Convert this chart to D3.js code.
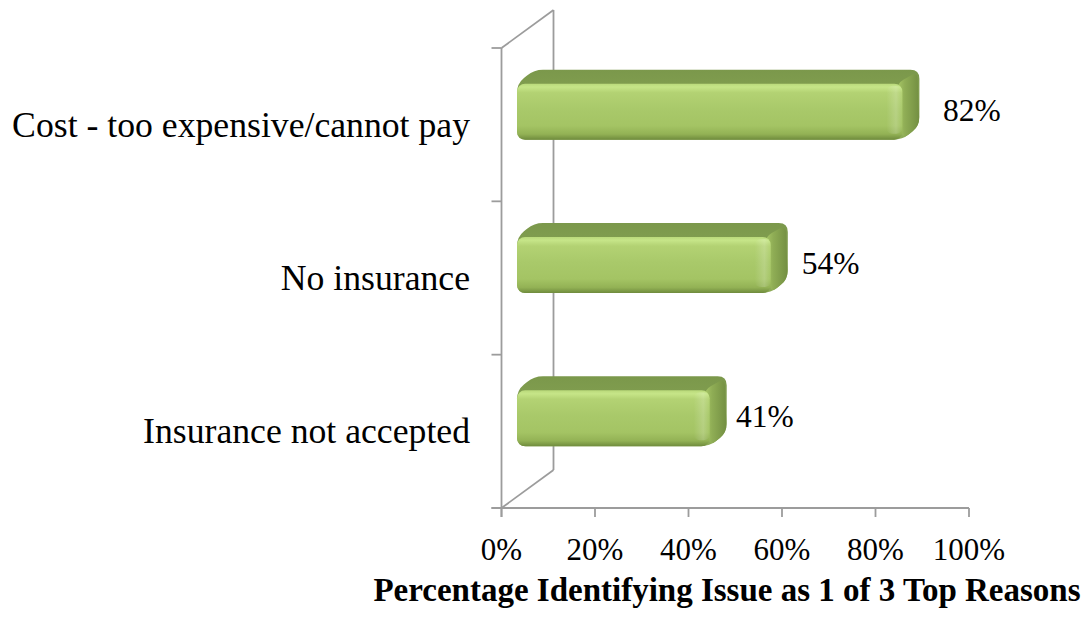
<!DOCTYPE html>
<html><head><meta charset="utf-8">
<script src="https://cdn.jsdelivr.net/npm/d3@7"></script>
<style>
html,body{margin:0;padding:0;background:#fff;}
svg{display:block;}
text{font-family:"Liberation Serif","Times New Roman",serif;fill:#000;}
</style></head>
<body>
<svg id="chart" width="1090" height="618"></svg>
<script>
const categories = ["Cost - too expensive/cannot pay", "No insurance", "Insurance not accepted"];
const values = [0.82, 0.54, 0.41];
const valueLabels = ["82%", "54%", "41%"];
const tickValues = [0, 0.2, 0.4, 0.6, 0.8, 1.0];
const tickLabels = ["0%", "20%", "40%", "60%", "80%", "100%"];
const axisTitle = "Percentage Identifying Issue as 1 of 3 Top Reasons";

const svg = d3.select("#chart");
const defs = svg.append("defs");

// scales
const xF = d3.scaleLinear().domain([0, 1]).range([501.5, 969]);      // front floor edge
const xB = d3.scaleLinear().domain([0, 1]).range([517, 987]);        // bars (mid-depth)
const xValLab = d3.scaleLinear().domain([0, 1]).range([529, 1034]);  // projected value labels
const y = d3.scaleBand().domain(categories).range([48, 508]).padding(0);

const DX = 52, DY = 38;       // wall depth
const bdx = 17, bdy = 14;     // bar depth
const barH = 56;
const gray = "#9c9c9c";

// gradients
const gFront = defs.append("linearGradient").attr("id", "gFront").attr("x1", 0).attr("y1", 0).attr("x2", 0).attr("y2", 1);
[[0, "#b9d97a"], [0.06, "#c6e588"], [0.16, "#b3d273"], [0.45, "#a9c96a"], [0.75, "#a4c464"], [0.9, "#93b255"], [1, "#6f8b3d"]]
  .forEach(([o, c]) => gFront.append("stop").attr("offset", o).attr("stop-color", c));
const gTop = defs.append("linearGradient").attr("id", "gTop").attr("x1", 0).attr("y1", 1).attr("x2", 0).attr("y2", 0);
[[0, "#8eab59"], [1, "#7b984b"]].forEach(([o, c]) => gTop.append("stop").attr("offset", o).attr("stop-color", c));
const gSide = defs.append("linearGradient").attr("id", "gSide").attr("x1", 0).attr("y1", 0).attr("x2", 1).attr("y2", 0);
[[0, "#a8c767"], [0.35, "#8fad55"], [1, "#738f42"]].forEach(([o, c]) => gSide.append("stop").attr("offset", o).attr("stop-color", c));
const gEdge = defs.append("linearGradient").attr("id", "gEdge").attr("x1", 0).attr("y1", 0).attr("x2", 1).attr("y2", 0);
[[0, "#ffffff", 0], [0.6, "#ffffff", 0.18], [1, "#ffffff", 0]].forEach(([o, c, a]) =>
  gEdge.append("stop").attr("offset", o).attr("stop-color", c).attr("stop-opacity", a));

function roundedPoly(pts, r) {
  const n = pts.length;
  let d = "";
  for (let i = 0; i < n; i++) {
    const p0 = pts[(i - 1 + n) % n], p1 = pts[i], p2 = pts[(i + 1) % n];
    const v1 = [p0[0] - p1[0], p0[1] - p1[1]], v2 = [p2[0] - p1[0], p2[1] - p1[1]];
    const l1 = Math.hypot(...v1), l2 = Math.hypot(...v2);
    const rr = Math.min(r, l1 / 2, l2 / 2);
    const a = [p1[0] + v1[0] / l1 * rr, p1[1] + v1[1] / l1 * rr];
    const b = [p1[0] + v2[0] / l2 * rr, p1[1] + v2[1] / l2 * rr];
    d += (i === 0 ? "M" : "L") + a[0] + "," + a[1] + "Q" + p1[0] + "," + p1[1] + " " + b[0] + "," + b[1];
  }
  return d + "Z";
}

// back wall & floor lines
const walls = svg.append("g").attr("stroke", gray).attr("stroke-width", 1.8).attr("fill", "none");
walls.append("line").attr("x1", xF(0) + DX).attr("x2", xF(0) + DX).attr("y1", y.range()[0] - DY).attr("y2", y.range()[1] - DY);
walls.append("line").attr("x1", xF(0)).attr("y1", y.range()[0]).attr("x2", xF(0) + DX).attr("y2", y.range()[0] - DY);
walls.append("line").attr("x1", xF(0)).attr("y1", y.range()[1]).attr("x2", xF(0) + DX).attr("y2", y.range()[1] - DY);
walls.append("line").attr("x1", xF(0)).attr("x2", xF(0)).attr("y1", y.range()[0]).attr("y2", y.range()[1] + 9);
walls.append("line").attr("x1", xF(0) - 10).attr("x2", xF(1)).attr("y1", y.range()[1]).attr("y2", y.range()[1]);
// left category ticks
const bounds = categories.map(c => y(c)).concat([y.range()[1]]);
walls.selectAll("line.lt").data(bounds).enter().append("line").attr("class", "lt")
  .attr("x1", xF(0) - 10).attr("x2", xF(0)).attr("y1", d => d).attr("y2", d => d);
// bottom value ticks
walls.selectAll("line.bt").data(tickValues).enter().append("line").attr("class", "bt")
  .attr("x1", d => xF(d)).attr("x2", d => xF(d)).attr("y1", y.range()[1]).attr("y2", y.range()[1] + 9);

// bars
const bars = svg.append("g");
categories.forEach((c, i) => {
  const cy = y(c) + y.bandwidth() / 2 - 13;
  const x0 = xB(0), x1 = xB(values[i]);
  const yT = cy - barH / 2, yBt = cy + barH / 2;
  const g = bars.append("g");
  g.append("path").attr("d", roundedPoly([[x0, yBt], [x0, yT], [x0 + bdx, yT - bdy], [x1 + bdx, yT - bdy], [x1 + bdx, yBt - bdy], [x1, yBt]], 9))
    .attr("fill", "url(#gTop)");
  g.append("path").attr("d", roundedPoly([[x1 - 6, yT], [x1 + bdx - 2, yT - bdy + 2], [x1 + bdx, yBt - bdy], [x1, yBt]], 8))
    .attr("fill", "url(#gSide)");
  g.append("rect").attr("x", x0).attr("y", yT).attr("width", x1 - x0).attr("height", barH)
    .attr("rx", 8).attr("ry", 8).attr("fill", "url(#gFront)");
  g.append("rect").attr("x", x1 - 16).attr("y", yT + 2).attr("width", 16).attr("height", barH - 8)
    .attr("rx", 6).attr("fill", "url(#gEdge)");
});

// category labels
svg.append("g").selectAll("text").data(categories).enter().append("text")
  .attr("x", 470).attr("y", d => y(d) + y.bandwidth() / 2 + 12)
  .attr("text-anchor", "end").attr("font-size", 35.7).text(d => d);

// value labels
svg.append("g").selectAll("text").data(values).enter().append("text")
  .attr("x", d => xValLab(d)).attr("y", (d, i) => y(categories[i]) + y.bandwidth() / 2 - 4)
  .attr("font-size", 31.5).text((d, i) => valueLabels[i]);

// tick labels
svg.append("g").selectAll("text").data(tickValues).enter().append("text")
  .attr("x", d => xF(d)).attr("y", 560)
  .attr("text-anchor", "middle").attr("font-size", 31).text((d, i) => tickLabels[i]);

// axis title
svg.append("text").attr("x", 727).attr("y", 601).attr("text-anchor", "middle")
  .attr("font-size", 33).attr("font-weight", "bold").text(axisTitle);
</script>
</body></html>
